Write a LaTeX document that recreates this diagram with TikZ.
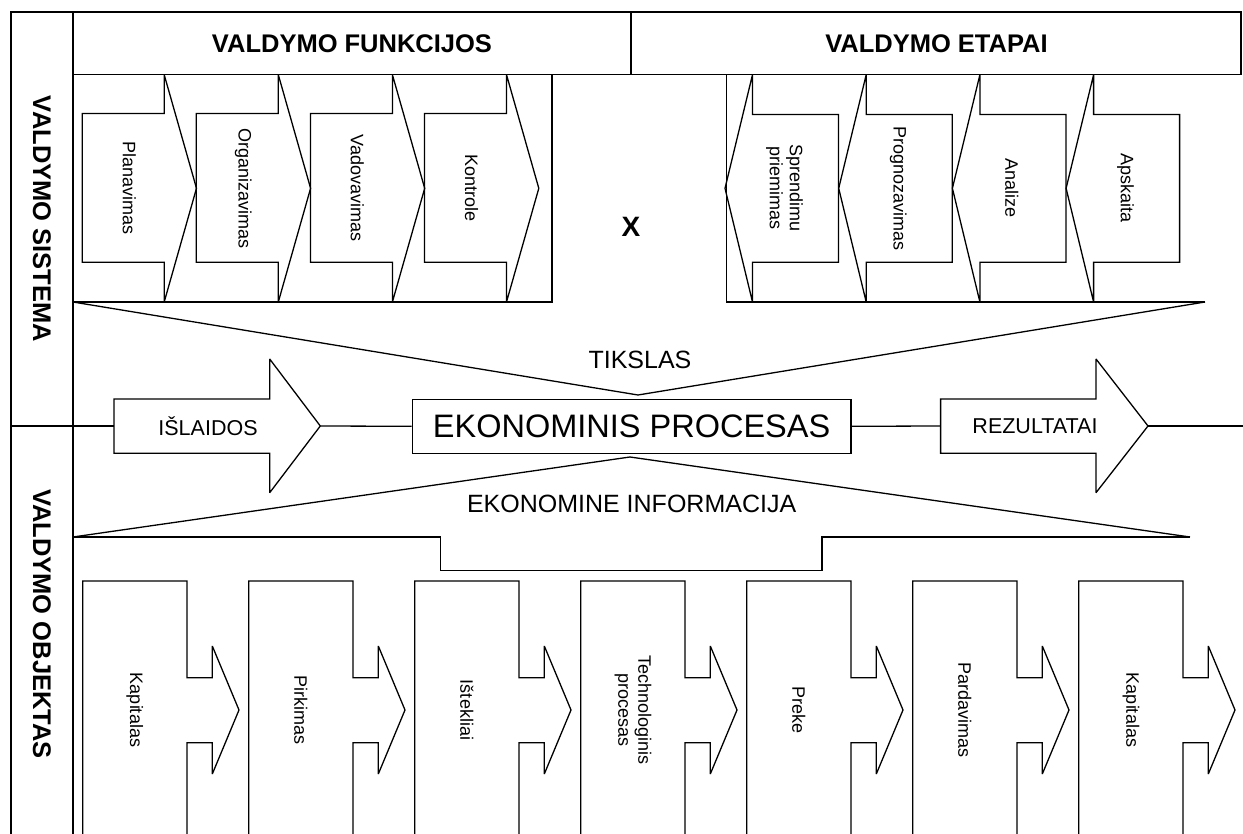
\documentclass[tikz,border=0pt]{standalone}
\usepackage{fontspec}
\setmainfont{Liberation Sans}
\usepackage{tikz}
\usetikzlibrary{positioning,calc}

\tikzset{
    hdr/.style={font=\fontsize{25.5}{30}\selectfont\bfseries},
    sml/.style={font=\fontsize{18}{20}\selectfont, rotate=-90, align=center},
    mid/.style={font=\fontsize{21.5}{24}\selectfont},
    big/.style={font=\fontsize{25}{28}\selectfont}
}

\begin{document}
\begin{tikzpicture}[x=1pt, y=-1pt, line width=1.3pt, line join=miter, miter limit=2]
    \useasboundingbox (0,0) rectangle (1243,834);

    % Frame and header
    \draw (11,834) -- (11,12) -- (1241,12) -- (1241,74.7) -- (73,74.7);
    \draw (73,12) -- (73,834);
    \draw (631,12) -- (631,74.7);
    \node[hdr] (fun) at (352,43.4) {VALDYMO FUNKCIJOS};
    \node[hdr] (eta) at (936.5,43.4) {VALDYMO ETAPAI};
    \node[hdr, rotate=-90] (sys) at (42,219) {VALDYMO SISTEMA};
    \node[hdr, rotate=-90] (obj) at (42,624) {VALDYMO OBJEKTAS};

    % Valdymo funkcijos
    \draw (552,74.7) -- (552,302) -- (73,302);
    \foreach \i/\txt in {0/Planavimas,1/Organizavimas,2/Vadovavimas,3/Kontrole}{
        \pgfmathsetmacro\L{82.2+114.1*\i}
        \pgfmathsetmacro\N{\L+82}
        \pgfmathsetmacro\T{\L+114.3}
        \draw (\L,113.5) -- (\N,113.5) -- (\N,74.7) -- (\T,188.3) -- (\N,302)
            -- (\N,262.3) -- (\L,262.3) -- cycle;
        \node[sml] (f\i) at ({\L+47},188.3) {\txt};
    }

    % Valdymo etapai
    \draw (726.5,74.7) -- (726.5,302) -- (1205,302);
    \foreach \i/\txt in {0/{Sprendimu\\priemimas},1/Prognozavimas,2/Analize,3/Apskaita}{
        \pgfmathsetmacro\T{725+113.7*\i}
        \pgfmathsetmacro\N{\T+27.5}
        \pgfmathsetmacro\R{\T+113.5}
        \draw (\T,188.3) -- (\N,74.7) -- (\N,114.5) -- (\R,114.5) -- (\R,262.3)
            -- (\N,262.3) -- (\N,302) -- cycle;
        \node[sml] (e\i) at ({\T+59.5},188.3) {\txt};
    }
    \node[font=\fontsize{28}{30}\selectfont\bfseries] (x) at (631,227) {X};

    % Tikslas
    \draw (73,302) -- (638,395) -- (1205,302);
    \node[big] (tiks) at (640,360) {TIKSLAS};

    % Ekonominis procesas
    \coordinate (divL) at (11,426);
    \coordinate (rgt) at (1243,426);
    \draw (114,399) -- (269.7,399) -- (269.7,359) -- (320.3,426) -- (269.7,492.7)
        -- (269.7,453.3) -- (114,453.3) -- cycle;
    \coordinate (islL) at (114,426);
    \coordinate (islT) at (320.3,426);
    \node[mid] (isl) at (208,426) {IŠLAIDOS};
    \node[draw, minimum width=438.7pt, minimum height=54pt, inner sep=0pt,
        font=\fontsize{32.5}{36}\selectfont] (proc) at (631.6,426.3) {EKONOMINIS PROCESAS};
    \draw (940.6,399) -- (1096,399) -- (1096,359) -- (1148,426) -- (1096,492.7)
        -- (1096,453.3) -- (940.6,453.3) -- cycle;
    \coordinate (rezL) at (940.6,426);
    \coordinate (rezT) at (1148,426);
    \node[mid] (rez) at (1035,426) {REZULTATAI};
    \draw (divL) -- (islL);
    \draw (islT) -- (proc.west);
    \draw (proc.east) -- (rezL);
    \draw (rezT) -- (rgt);

    % Ekonomine informacija
    \draw (73,537) -- (630,457) -- (1190,537);
    \draw (73,537) -- (440.7,537) -- (440.7,570.7) -- (822,570.7) -- (822,537) -- (1190,537);
    \node[big] (info) at (631.6,504) {EKONOMINE INFORMACIJA};

    % Valdymo objektas
    \foreach \i/\txt in {0/Kapitalas,1/Pirkimas,2/Ištekliai,3/{Technologinis\\procesas},
            4/Preke,5/Pardavimas,6/Kapitalas}{
        \pgfmathsetmacro\L{82.7+166*\i}
        \pgfmathsetmacro\N{\L+104.3}
        \pgfmathsetmacro\H{\L+129.6}
        \pgfmathsetmacro\T{\L+156.3}
        \draw (\L,834) -- (\L,581) -- (\N,581) -- (\N,677.7) -- (\H,677.7) -- (\H,646)
            -- (\T,710) -- (\H,774) -- (\H,742.7) -- (\N,742.7) -- (\N,834);
        \node[sml] (o\i) at ({\L+52.2},710) {\txt};
    }
\end{tikzpicture}
\end{document}
